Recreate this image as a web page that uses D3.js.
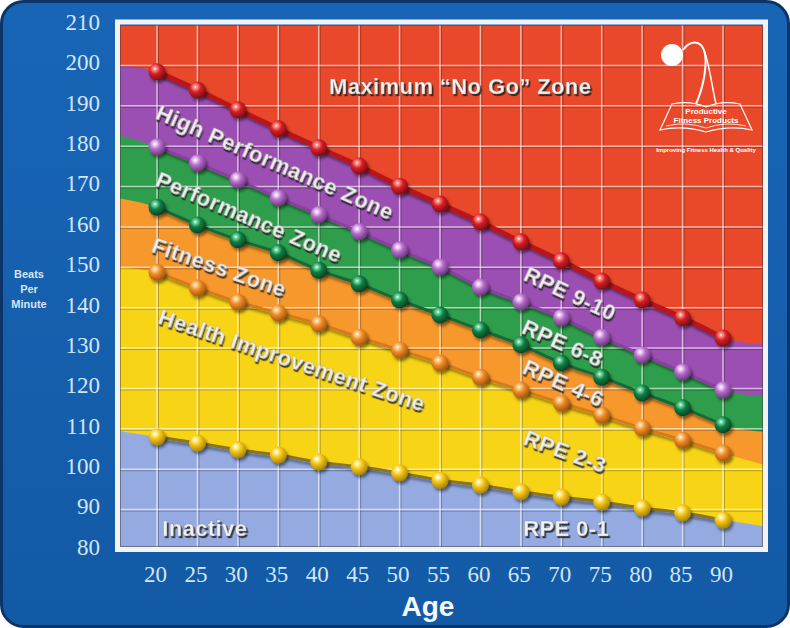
<!DOCTYPE html>
<html>
<head>
<meta charset="utf-8">
<script src="https://cdn.jsdelivr.net/npm/d3@7"></script>
<style>
  body { margin: 0; background: #fff; }
  svg { display: block; }
</style>
</head>
<body>
<div id="chart"></div>
<script>
// ages along the bottom, one dot per age on each zone line
var ages = [20, 25, 30, 35, 40, 45, 50, 55, 60, 65, 70, 75, 80, 85, 90];

// beats per minute
var maxLine      = [198.4, 193.9, 189.0, 184.3, 179.6, 175.1, 170.1, 165.7, 161.2, 156.3, 151.6, 146.6, 141.9, 137.5, 132.5];
var highPerfLine = [179.8, 175.8, 171.6, 167.2, 163.0, 158.8, 154.3, 150.1, 145.1, 141.4, 137.5, 132.7, 128.3, 124.1, 119.6];
var perfLine     = [164.9, 160.5, 156.8, 153.6, 149.3, 145.9, 141.9, 138.2, 134.5, 130.8, 126.3, 122.8, 118.9, 115.2, 111.0];
var fitnessLine  = [148.8, 144.9, 141.4, 138.7, 136.0, 132.7, 129.5, 126.3, 122.8, 119.6, 116.4, 113.4, 110.2, 107.2, 104.0];
var healthLine   = [108.0, 106.5, 104.8, 103.5, 101.8, 100.6, 99.1, 97.3, 96.1, 94.4, 93.1, 91.9, 90.4, 89.2, 87.4];

// where each band edge meets the frame (left side, right side)
var edgeLeft  = [200.4, 183.3, 167.4, 150.1, 109.7];
var edgeRight = [130.8, 117.9, 109.0, 100.6, 85.7];

var yTicks = [80, 90, 100, 110, 120, 130, 140, 150, 160, 170, 180, 190, 200, 210];
var xTicks = ages;

// zone labels: [text, age, bpm, angle]
var zoneLabels = [
  ["Maximum \u201cNo Go\u201d Zone", 57.5, 194.7, 0],
  ["High Performance Zone", 34.6, 176.1, 23.5],
  ["Performance Zone", 31.4, 162.5, 23],
  ["Fitness Zone", 27.7, 150.1, 19],
  ["Health Improvement Zone", 36.7, 127.1, 18.5],
  ["Inactive", 25.9, 85.4, 0],
  ["RPE 9-10", 71.1, 143.6, 25],
  ["RPE 6-8", 70.2, 131.3, 24],
  ["RPE 4-6", 70.3, 121.4, 24],
  ["RPE 2-3", 70.5, 104.5, 20],
  ["RPE 0-1", 70.6, 85.4, 0]
];

var lines = [maxLine, highPerfLine, perfLine, fitnessLine, healthLine];
var bandColors = ["#9c4fb2", "#2f9e4c", "#f7982c", "#f8d416", "#94aae0"];
var topColor = "#e9482a";
var dotColors = [
  {base: "#d61f27", hi: "#ff9a8c", dark: "#7e0c10", line: "#b8141c"},
  {base: "#b46cc8", hi: "#f4d4fa", dark: "#6e3482", line: "#8a3fa0"},
  {base: "#108046", hi: "#7fe0aa", dark: "#05401f", line: "#136b39"},
  {base: "#ee8a28", hi: "#ffd79a", dark: "#a3540c", line: "#d77a1e"},
  {base: "#f3c417", hi: "#fff4a8", dark: "#a88300", line: "#8a7420"}
];

var width = 790, height = 628;
var plot = {left: 120, right: 763, top: 25, bottom: 547};
var serif = "'Liberation Serif', 'DejaVu Serif', 'Times New Roman', serif";
var sans = "'Liberation Sans', Arial, sans-serif";

var svg = d3.select("#chart").append("svg")
    .attr("width", width)
    .attr("height", height);

var defs = svg.append("defs");

var bgGrad = defs.append("linearGradient").attr("id", "bg")
    .attr("x1", 0).attr("y1", 0).attr("x2", 0).attr("y2", 1);
bgGrad.append("stop").attr("offset", "0%").attr("stop-color", "#1865b6");
bgGrad.append("stop").attr("offset", "100%").attr("stop-color", "#135aa6");

var shadow = defs.append("filter").attr("id", "shadow")
    .attr("x", "-30%").attr("y", "-30%").attr("width", "160%").attr("height", "160%");
shadow.append("feDropShadow").attr("dx", 2).attr("dy", 3).attr("stdDeviation", 1.6)
    .attr("flood-color", "#000").attr("flood-opacity", 0.45);

var textShadow = defs.append("filter").attr("id", "textShadow")
    .attr("x", "-10%").attr("y", "-30%").attr("width", "120%").attr("height", "160%");
textShadow.append("feDropShadow").attr("dx", 1.6).attr("dy", 2).attr("stdDeviation", 0.6)
    .attr("flood-color", "#1e1e1e").attr("flood-opacity", 0.8);

dotColors.forEach(function(c, i) {
  var g = defs.append("radialGradient").attr("id", "dot" + i)
      .attr("cx", "38%").attr("cy", "32%").attr("r", "70%");
  g.append("stop").attr("offset", "0%").attr("stop-color", "#ffffff");
  g.append("stop").attr("offset", "12%").attr("stop-color", c.hi);
  g.append("stop").attr("offset", "45%").attr("stop-color", c.base);
  g.append("stop").attr("offset", "100%").attr("stop-color", c.dark);
});

defs.append("clipPath").attr("id", "plotClip")
  .append("rect")
    .attr("x", plot.left).attr("y", plot.top)
    .attr("width", plot.right - plot.left)
    .attr("height", plot.bottom - plot.top);

// blue panel
svg.append("rect")
    .attr("x", 1.5).attr("y", 1.5)
    .attr("width", width - 3).attr("height", height - 3)
    .attr("rx", 22)
    .attr("fill", "url(#bg)")
    .attr("stroke", "#0c3468")
    .attr("stroke-width", 3);

var x = d3.scaleLinear().domain([20, 90]).range([157, 723]);
var y = d3.scaleLinear().domain([80, 210]).range([550, 25]);

var plotG = svg.append("g").attr("clip-path", "url(#plotClip)");

plotG.append("rect")
    .attr("x", plot.left).attr("y", plot.top)
    .attr("width", plot.right - plot.left)
    .attr("height", plot.bottom - plot.top)
    .attr("fill", topColor);

var ageLeft = x.invert(plot.left) - 1;
var ageRight = x.invert(plot.right) + 1;

function edgePoints(i) {
  var pts = [[ageLeft, edgeLeft[i]]];
  ages.forEach(function(a, j) { pts.push([a, lines[i][j]]); });
  pts.push([ageRight, edgeRight[i]]);
  return pts;
}

var area = d3.area()
    .x(function(d) { return x(d[0]); })
    .y0(plot.bottom + 5)
    .y1(function(d) { return y(d[1]); })
    .curve(d3.curveMonotoneX);

plotG.selectAll("path.band")
  .data(lines.map(function(l, i) { return edgePoints(i); }))
  .join("path")
    .attr("class", "band")
    .attr("d", area)
    .attr("fill", function(d, i) { return bandColors[i]; });

// grid
var gx = ages;
var gy = yTicks.filter(function(v) { return v > 80 && v < 210; });
var grid = plotG.append("g");
grid.selectAll("line.vs").data(gx).join("line")
    .attr("x1", function(d) { return x(d) + 1.5; }).attr("x2", function(d) { return x(d) + 1.5; })
    .attr("y1", plot.top).attr("y2", plot.bottom)
    .attr("stroke", "rgba(0,0,0,0.25)").attr("stroke-width", 1);
grid.selectAll("line.hs").data(gy).join("line")
    .attr("y1", function(d) { return y(d) + 1.5; }).attr("y2", function(d) { return y(d) + 1.5; })
    .attr("x1", plot.left).attr("x2", plot.right)
    .attr("stroke", "rgba(0,0,0,0.25)").attr("stroke-width", 1);
grid.selectAll("line.v").data(gx).join("line")
    .attr("x1", function(d) { return x(d); }).attr("x2", function(d) { return x(d); })
    .attr("y1", plot.top).attr("y2", plot.bottom)
    .attr("stroke", "rgba(255,255,255,0.6)").attr("stroke-width", 1.5);
grid.selectAll("line.h").data(gy).join("line")
    .attr("y1", function(d) { return y(d); }).attr("y2", function(d) { return y(d); })
    .attr("x1", plot.left).attr("x2", plot.right)
    .attr("stroke", "rgba(255,255,255,0.6)").attr("stroke-width", 1.5);

// lines joining the dots
var line = d3.line()
    .x(function(d, j) { return x(ages[j]); })
    .y(function(d) { return y(d); })
    .curve(d3.curveMonotoneX);

plotG.selectAll("path.zline").data(lines).join("path")
    .attr("class", "zline")
    .attr("d", line)
    .attr("fill", "none")
    .attr("stroke", function(d, i) { return dotColors[i].line; })
    .attr("stroke-width", function(d, i) { return i === 0 ? 5 : 3; })
    .attr("stroke-linecap", "round")
    .attr("filter", "url(#shadow)");

// dots
lines.forEach(function(l, i) {
  plotG.append("g").selectAll("circle").data(l).join("circle")
      .attr("cx", function(d, j) { return x(ages[j]); })
      .attr("cy", function(d) { return y(d); })
      .attr("r", 8.5)
      .attr("fill", "url(#dot" + i + ")")
      .attr("filter", "url(#shadow)");
});

// zone labels
plotG.append("g")
    .attr("font-family", sans)
    .attr("font-weight", "bold")
    .attr("font-size", 22)
  .selectAll("text").data(zoneLabels).join("text")
    .attr("transform", function(d) {
      return "translate(" + x(d[1]) + "," + y(d[2]) + ") rotate(" + d[3] + ")";
    })
    .attr("text-anchor", "middle")
    .attr("dominant-baseline", "central")
    .attr("fill", "#f1f1f1")
    .attr("stroke", "rgba(120,120,120,0.5)")
    .attr("stroke-width", 0.5)
    .attr("filter", "url(#textShadow)")
    .style("letter-spacing", "0.4px")
    .text(function(d) { return d[0]; });

// logo (top right)
var logo = svg.append("g").attr("fill", "none").attr("stroke", "#fff");
logo.append("circle").attr("cx", 672).attr("cy", 55).attr("r", 11)
    .attr("fill", "#fff").attr("stroke", "none");
logo.append("path").attr("d", "M683,50 C690,40 700,40 704,50 C708,62 704,86 696,104")
    .attr("stroke-width", 2);
logo.append("path").attr("d", "M704,50 C710,66 712,88 716,104").attr("stroke-width", 1.5);
logo.append("path")
    .attr("d", "M660,130 L672,104 Q690,100 706,107 Q722,100 740,104 L752,130 Q730,125 706,132 Q682,125 660,130 Z")
    .attr("stroke-width", 1.2);
logo.append("path").attr("d", "M666,126 Q686,121 706,128 Q726,121 746,126").attr("stroke-width", 0.8);
var logoText = svg.append("g")
    .attr("fill", "#fff")
    .attr("text-anchor", "middle")
    .attr("font-family", sans)
    .attr("font-weight", "bold");
logoText.append("text").attr("x", 706).attr("y", 114).attr("font-size", 8).text("Productive");
logoText.append("text").attr("x", 706).attr("y", 123).attr("font-size", 8).text("Fitness Products");
logoText.append("text").attr("x", 706).attr("y", 152).attr("font-size", 6).text("Improving Fitness Health & Quality");

// frame around the plot
svg.append("rect")
    .attr("x", 117.5).attr("y", 22)
    .attr("width", 648).attr("height", 527.5)
    .attr("fill", "none")
    .attr("stroke", "#f3f3f3")
    .attr("stroke-width", 5);
svg.append("rect")
    .attr("x", plot.left + 0.5).attr("y", plot.top + 0.5)
    .attr("width", plot.right - plot.left - 1).attr("height", plot.bottom - plot.top - 1)
    .attr("fill", "none")
    .attr("stroke", "rgba(60,60,60,0.5)")
    .attr("stroke-width", 1);

// y axis labels
var yAxis = d3.axisLeft(y).tickValues(yTicks).tickSize(0).tickPadding(0);
var yG = svg.append("g")
    .attr("class", "y axis")
    .attr("transform", "translate(100,-3)")
    .call(yAxis)
    .attr("font-family", serif)
    .attr("font-size", 23);
yG.select(".domain").remove();
yG.selectAll("text").attr("fill", "#d3e5f6");

// x axis labels
var xAxis = d3.axisBottom(x).tickValues(xTicks).tickSize(0).tickPadding(0);
var xG = svg.append("g")
    .attr("class", "x axis")
    .attr("transform", "translate(-2,566)")
    .call(xAxis)
    .attr("font-family", serif)
    .attr("font-size", 23);
xG.select(".domain").remove();
xG.selectAll("text").attr("fill", "#d3e5f6");

svg.append("text")
    .attr("x", 428).attr("y", 616)
    .attr("text-anchor", "middle")
    .attr("fill", "#f4f8fc")
    .attr("font-family", sans)
    .attr("font-weight", "bold")
    .attr("font-size", 28)
    .text("Age");

var yTitle = svg.append("text")
    .attr("text-anchor", "middle")
    .attr("fill", "#d8e4f0")
    .attr("font-family", sans)
    .attr("font-weight", "bold")
    .attr("font-size", 11);
yTitle.append("tspan").attr("x", 29).attr("y", 278).text("Beats");
yTitle.append("tspan").attr("x", 29).attr("y", 293).text("Per");
yTitle.append("tspan").attr("x", 29).attr("y", 308).text("Minute");
</script>
</body>
</html>
